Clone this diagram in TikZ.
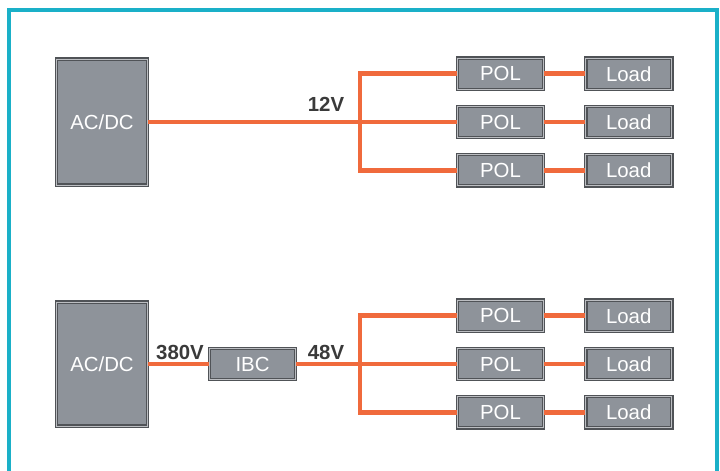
\documentclass[tikz,border=0pt]{standalone}
\usepackage{fontspec}
\setmainfont{Liberation Sans}
\usetikzlibrary{positioning,calc}

\definecolor{frameblue}{HTML}{1AB0C8}
\definecolor{wire}{HTML}{F06A3C}
\definecolor{boxfill}{HTML}{8E939A}
\definecolor{boxedge}{HTML}{505357}
\definecolor{boxlight}{HTML}{BCBEC2}
\definecolor{labelgray}{HTML}{3A3A3A}

\begin{document}
\begin{tikzpicture}[
  x=0.025cm, y=-0.025cm,
  unit/.style={draw=boxedge, line width=1pt, double=boxlight, double distance=0.6pt,
    fill=boxfill, text=white, inner sep=0pt, font=\fontsize{14.5}{16}\selectfont},
  small/.style={unit, minimum width=2.15cm, minimum height=0.78cm},
  big/.style={unit, minimum width=2.28cm},
  volt/.style={font=\fontsize{14.5}{16}\selectfont\bfseries, text=labelgray, inner sep=0pt},
  bus/.style={wire, line width=3.4pt}
]
\useasboundingbox (0,0) rectangle (720,471);
\draw[frameblue, line width=2.2pt] (9,475) -- (9,10) -- (717,10) -- (717,475);

% upper scheme: direct 12V bus
\node[big, minimum height=3.15cm] (acdcA) at (102,122) {AC/DC};
\node[small] (polA2) at (500.5,122) {POL};
\node[small, above=0.39cm of polA2] (polA1) {POL};
\node[small, below=0.39cm of polA2] (polA3) {POL};
\foreach \i in {1,2,3}
  \node[small, right=1.02cm of polA\i] (loadA\i) {Load};
\coordinate (busA) at (360,122);

\draw[bus] (acdcA) -- (polA2);
\draw[bus] (polA1.west) -| (busA) |- (polA3.west);
\foreach \i in {1,2,3}
  \draw[bus] (polA\i) -- (loadA\i);
\node[volt] (vA) at (326,104) {12V};

% lower scheme: 380V -> IBC -> 48V bus
\node[big, minimum height=3.1cm] (acdcB) at (102,364) {AC/DC};
\node[small] (ibc) at (252.5,364) {IBC};
\node[small] (polB2) at (500.5,364) {POL};
\node[small, above=0.39cm of polB2] (polB1) {POL};
\node[small, below=0.39cm of polB2] (polB3) {POL};
\foreach \i in {1,2,3}
  \node[small, right=1.02cm of polB\i] (loadB\i) {Load};
\coordinate (busB) at (360,364);

\draw[bus] (acdcB.east |- ibc) -- (ibc);
\draw[bus] (ibc) -- (polB2);
\draw[bus] (polB1.west) -| (busB) |- (polB3.west);
\foreach \i in {1,2,3}
  \draw[bus] (polB\i) -- (loadB\i);
\node[volt] (vB1) at (180,352) {380V};
\node[volt] (vB2) at (326,352) {48V};
\end{tikzpicture}
\end{document}
